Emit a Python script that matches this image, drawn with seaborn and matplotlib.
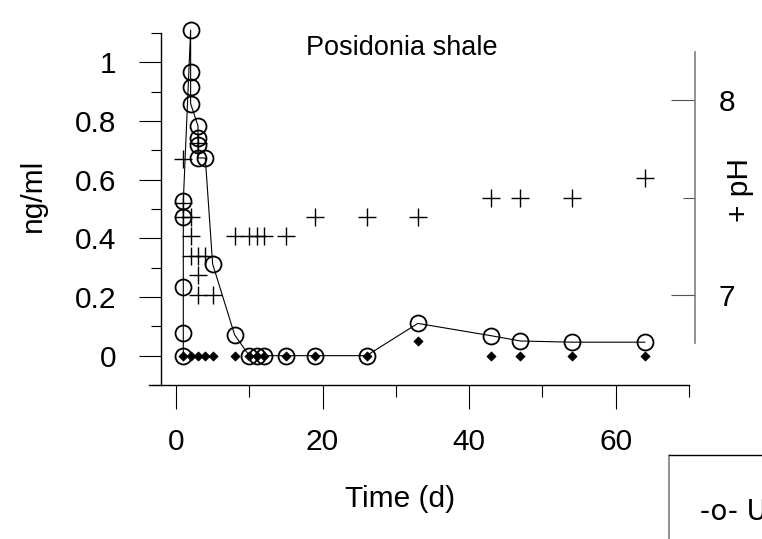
import numpy as np
import pandas as pd
import matplotlib
matplotlib.use("Agg")
import matplotlib.pyplot as plt
from matplotlib.lines import Line2D
from matplotlib.ticker import FixedLocator
import seaborn as sns

# U (ng/ml), open circles joined by a line, in sampling order
u_days = [1, 1, 1, 1, 1, 2, 2, 2, 2, 3, 3, 3, 3, 4, 5, 8, 10, 11, 12, 15, 19, 26, 33, 43, 47, 54, 64]
u_conc = [0, 0.076, 0.233, 0.474, 0.526, 1.11, 0.966, 0.916, 0.859, 0.784, 0.742, 0.719, 0.674,
          0.674, 0.313, 0.071, 0, 0, 0, 0, 0, 0, 0.11, 0.068, 0.05, 0.046, 0.046]

# second element (ng/ml), filled diamonds
d_days = [1, 2, 3, 4, 5, 8, 10, 11, 12, 15, 19, 26, 33, 43, 47, 54, 64]
d_conc = [0, 0, 0, 0, 0, 0, 0, 0, 0, 0, 0, 0, 0.05, 0, 0, 0, 0]

# pH, plus signs on the right axis
ph_days = [1, 1, 1, 2, 2, 2, 3, 3, 3, 3, 4, 5, 8, 10, 11, 12, 15, 19, 26, 33, 43, 47, 54, 64]
ph_vals = [7.70, 7.47, 7.40, 7.40, 7.30, 7.20, 7.78, 7.20, 7.10, 7.00, 7.20, 7.00, 7.30, 7.30,
           7.30, 7.30, 7.30, 7.40, 7.40, 7.40, 7.50, 7.50, 7.50, 7.60]

x_major = [0, 20, 40, 60]
x_minor = [10, 30, 50, 70]
y_major = [0, 0.2, 0.4, 0.6, 0.8, 1.0]
y_labels = ["0", "0.2", "0.4", "0.6", "0.8", "1"]
y_minor = [-0.1, 0.1, 0.3, 0.5, 0.7, 0.9, 1.1]
ph_major = [7, 8]
ph_minor = [7.5]

sns.set_style("white")
plt.rcParams["font.family"] = ["Liberation Sans", "DejaVu Sans"]
plt.rcParams["text.color"] = "black"
plt.rcParams["xtick.color"] = "black"
plt.rcParams["ytick.color"] = "black"
fs = 21.5

W, H = 762, 539
fig = plt.figure(figsize=(W / 100, H / 100), dpi=100)
ax = fig.add_axes([149 / W, 154 / H, 540 / W, 352 / H])

u = pd.DataFrame({"day": u_days, "conc": u_conc})
d = pd.DataFrame({"day": d_days, "conc": d_conc})
ph = pd.DataFrame({"day": ph_days, "pH": ph_vals})

sns.lineplot(data=u, x="day", y="conc", ax=ax, estimator=None, sort=False, color="black",
             lw=0.8, marker="o", markersize=11.5, markerfacecolor="none",
             markeredgecolor="black", markeredgewidth=1.3, legend=False, clip_on=False)
sns.scatterplot(data=d, x="day", y="conc", ax=ax, marker="D", s=22, color="black",
                edgecolor="black", linewidth=0.5, legend=False, zorder=3)

ax.set_xlim(-3.68, 70.0)
ax.set_ylim(-0.1, 1.1)
ax.set_xlabel("")
ax.set_ylabel("")
for s in ["top", "right"]:
    ax.spines[s].set_visible(False)
ax.spines["left"].set_position(("data", -2.05))
ax.spines["left"].set_linewidth(1)
ax.spines["bottom"].set_linewidth(1)
ax.spines["left"].set_color("black")
ax.spines["bottom"].set_color("black")

ax.xaxis.set_major_locator(FixedLocator(x_major))
ax.xaxis.set_minor_locator(FixedLocator(x_minor))
ax.set_xticklabels([str(v) for v in x_major])
ax.yaxis.set_major_locator(FixedLocator(y_major))
ax.yaxis.set_minor_locator(FixedLocator(y_minor))
ax.set_yticklabels(y_labels)
ax.tick_params(axis="both", which="both", direction="out", color="black", width=0.8,
               labelsize=fs, labelcolor="black", bottom=True, left=True)
ax.tick_params(axis="x", which="major", length=17.3, pad=14)
ax.tick_params(axis="x", which="minor", length=8.6)
ax.tick_params(axis="y", which="major", length=16, pad=16)
ax.tick_params(axis="y", which="minor", length=7.2)

ax2 = ax.twinx()
sns.scatterplot(data=ph, x="day", y="pH", ax=ax2, marker="+", s=150, color="black",
                linewidth=1.0, legend=False)
ax2.set_ylim(6.538, 8.344)
ax2.set_ylabel("")
for s in ["top", "left", "bottom"]:
    ax2.spines[s].set_visible(False)
ax2.spines["right"].set_position(("outward", 4.3))
ax2.spines["right"].set_bounds(6.754, 8.246)
ax2.spines["right"].set_color("#7f7f7f")
ax2.spines["right"].set_linewidth(1.2)
ax2.yaxis.set_major_locator(FixedLocator(ph_major))
ax2.yaxis.set_minor_locator(FixedLocator(ph_minor))
ax2.set_yticklabels([str(v) for v in ph_major])
ax2.tick_params(axis="y", which="both", direction="in", color="#555555", width=0.8,
                labelsize=fs, labelcolor="black", right=True)
ax2.tick_params(axis="y", which="major", length=17.3, pad=17)
ax2.tick_params(axis="y", which="minor", length=8.6)

def fx(px):
    return px / W

def fy(py):
    return 1 - py / H

fig.text(fx(306), fy(48), "Posidonia shale", fontsize=19.5, ha="left", va="center")
fig.text(fx(400), fy(499), "Time (d)", fontsize=fs, ha="center", va="center")
fig.text(fx(33), fy(195), "ng/ml", fontsize=fs, rotation=90, ha="center", va="center")
fig.text(fx(740), fy(190), "+ pH", fontsize=fs, rotation=90, ha="center", va="center")

# legend box cut off by the figure edge
fig.add_artist(Line2D([fx(669), fx(669)], [fy(455), fy(539)], transform=fig.transFigure,
                      color="#7f7f7f", lw=1.2))
fig.add_artist(Line2D([fx(669), fx(762)], [fy(455), fy(455)], transform=fig.transFigure,
                      color="black", lw=1))
fig.text(fx(700), fy(512), "-o- U", fontsize=20, family="DejaVu Sans", ha="left", va="center")

fig.savefig("out.png", dpi=100)
